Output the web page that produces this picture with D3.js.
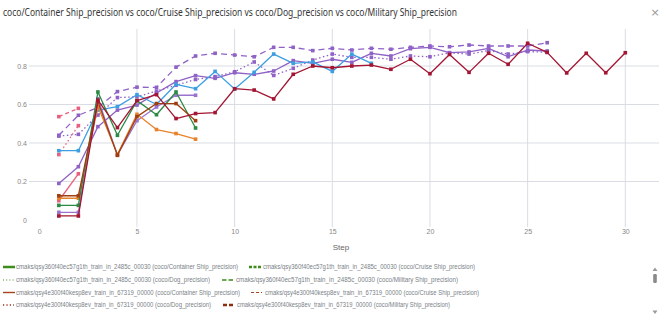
<!DOCTYPE html>
<html><head><meta charset="utf-8">
<script src="https://cdn.jsdelivr.net/npm/d3@7"></script>
<style>body{margin:0;background:#fff;}svg{display:block;}</style>
</head><body>
<svg id="c" width="666" height="328"></svg>
<script>
// ---- data ----
const titleText = "coco/Container Ship_precision vs coco/Cruise Ship_precision vs coco/Dog_precision vs coco/Military Ship_precision";
const xTicks = [0, 5, 10, 15, 20, 25, 30];
const yTicks = [0, 0.2, 0.4, 0.6, 0.8];
// values per step, starting at step 1
const greenContainer = [0.076,0.076,0.665,0.44,0.62,0.547,0.665,0.478];
const orangeContainer = [0.113,0.113,0.589,0.341,0.549,0.47,0.449,0.42];
const brownContainer = [0.126,0.126,0.615,0.336,0.537,0.605,0.605,0.516];
const violetContainer = [0.04,0.04,0.63,0.338,0.516,0.587,0.648,0.648];
const crimsonContainer = [0.021,0.021,0.623,0.48,0.62,0.651,0.527,0.553,0.558,0.682,0.675,0.629,0.757,0.8,0.791,0.8,0.805,0.783,0.835,0.76,0.86,0.767,0.866,0.809,0.918,0.871,0.764,0.866,0.765,0.869];
const blueContainer = [0.36,0.36,0.571,0.589,0.651,0.6,0.705,0.682,0.772,0.68,0.767,0.862,0.814,0.821,0.772,0.862,0.814];
const purpleContainer = [0.19,0.277,0.485,0.571,0.597,0.66,0.719,0.75,0.736,0.765,0.757,0.774,0.828,0.814,0.835,0.819,0.866,0.852,0.89,0.897,0.869,0.873,0.892,0.848,0.883,0.878];
const purpleDog = [0.436,0.445,0.545,0.636,0.64,0.67,0.70,0.73,0.745,0.77,0.821,0.751,0.788,0.831,0.862,0.845,0.845,0.835,0.852,0.848,0.869,0.862,0.88,0.862,0.875,0.871];
const purpleMilitary = [0.44,0.544,0.585,0.667,0.69,0.689,0.794,0.852,0.866,0.857,0.848,0.897,0.897,0.88,0.892,0.883,0.892,0.887,0.897,0.904,0.9,0.909,0.904,0.904,0.904,0.921];
const pinkContainer = [0.10,0.24];
const pinkDog = [0.34,0.49];
const pinkCruise = [0.537,0.58];

const legendNames = [
 "cmaks/qsy360f40ec57g1th_train_in_2485c_00030 (coco/Container Ship_precision)",
 "cmaks/qsy360f40ec57g1th_train_in_2485c_00030 (coco/Cruise Ship_precision)",
 "cmaks/qsy360f40ec57g1th_train_in_2485c_00030 (coco/Dog_precision)",
 "cmaks/qsy360f40ec57g1th_train_in_2485c_00030 (coco/Military Ship_precision)",
 "cmaks/qsy4e300f40kesp8ev_train_in_67319_00000 (coco/Container Ship_precision)",
 "cmaks/qsy4e300f40kesp8ev_train_in_67319_00000 (coco/Cruise Ship_precision)",
 "cmaks/qsy4e300f40kesp8ev_train_in_67319_00000 (coco/Dog_precision)",
 "cmaks/qsy4e300f40kesp8ev_train_in_67319_00000 (coco/Military Ship_precision)"
];

// ---- styles ----
const series = [
 {v: pinkContainer, c:"#e8607f", dash:null},
 {v: pinkDog, c:"#e8607f", dash:"1.5,2.5"},
 {v: pinkCruise, c:"#e8607f", dash:"4,3"},
 {v: purpleDog, c:"#8f62c6", dash:"1.5,2.5"},
 {v: purpleMilitary, c:"#8f62c6", dash:"6,4"},
 {v: purpleContainer, c:"#8f62c6", dash:null},
 {v: blueContainer, c:"#3d9fe2", dash:null},
 {v: violetContainer, c:"#9a73d0", dash:null},
 {v: orangeContainer, c:"#e8822b", dash:null},
 {v: greenContainer, c:"#2b8a43", dash:null},
 {v: brownContainer, c:"#9e3f12", dash:null},
 {v: crimsonContainer, c:"#a31533", dash:null}
];

const svg = d3.select("#c");
const x = d3.scaleLinear().domain([0, 30]).range([39.3, 625.3]);
const y = d3.scaleLinear().domain([0, 0.8]).range([220, 66]);

// title
svg.append("text").attr("x", 3).attr("y", 16)
  .attr("font-family", "Noto Sans, Open Sans, sans-serif").attr("font-size", 11.5)
  .attr("fill", "#333").attr("textLength", 454).attr("lengthAdjust", "spacingAndGlyphs")
  .text(titleText);
svg.append("text").attr("x", 655).attr("y", 16).attr("text-anchor", "middle")
  .attr("font-family", "DejaVu Sans, sans-serif").attr("font-size", 11).attr("fill", "#999").text("×");

// grid
const g = svg.append("g");
g.selectAll(".hg").data(yTicks.filter(d => d > 0)).enter().append("line")
  .attr("x1", 29).attr("x2", 659).attr("y1", d => y(d)).attr("y2", d => y(d))
  .attr("stroke", "#d9dde3").attr("stroke-width", 1);
g.selectAll(".vg").data(xTicks.filter(d => d > 0)).enter().append("line")
  .attr("y1", 29).attr("y2", 227).attr("x1", d => x(d)).attr("x2", d => x(d))
  .attr("stroke", "#d9dde3").attr("stroke-width", 1);

// axes (labels only, via d3 axes)
const yAxis = svg.append("g").attr("transform", "translate(27,0)")
  .call(d3.axisLeft(y).tickValues(yTicks).tickSize(0).tickPadding(0).tickFormat(d => d === 0 ? "0" : d3.format(".1f")(d)));
yAxis.select(".domain").remove();
yAxis.selectAll("text").attr("font-family", "Liberation Sans, sans-serif").attr("font-size", 7).attr("fill", "#888").attr("dy", "0.35em");
const xAxis = svg.append("g").attr("transform", "translate(0,229)")
  .call(d3.axisBottom(x).tickValues(xTicks).tickSize(0).tickPadding(0));
xAxis.select(".domain").remove();
xAxis.selectAll("text").attr("font-family", "Liberation Sans, sans-serif").attr("font-size", 7).attr("fill", "#888").attr("dy", "0.71em");
svg.append("text").attr("x", 341).attr("y", 250).attr("text-anchor", "middle")
  .attr("font-family", "Liberation Sans, sans-serif").attr("font-size", 8).attr("fill", "#666").text("Step");

// lines
const line = d3.line().x((d, i) => x(i + 1)).y(d => y(d));
series.forEach(s => {
  svg.append("path").attr("d", line(s.v)).attr("fill", "none")
    .attr("stroke", s.c).attr("stroke-width", 1.3)
    .attr("stroke-dasharray", s.dash).attr("stroke-linejoin", "round");
  svg.append("g").selectAll("rect").data(s.v).enter().append("rect")
    .attr("x", (d, i) => x(i + 1) - 1.8).attr("y", d => y(d) - 1.8)
    .attr("width", 3.6).attr("height", 3.6).attr("fill", s.c);
});

// legend
const legendItems = [
 {name: legendNames[0], c:"#3d8c1c", dash:null, sx:3, sw:12, tx:16, tw:222, ty:267, th:2.5},
 {name: legendNames[1], c:"#3d8c1c", dash:"3,1.5", sx:249, sw:13, tx:263, tw:212, ty:267, th:2.5},
 {name: legendNames[2], c:"#3d8c1c", dash:"1,2.2", sx:3, sw:11, tx:16, tw:194, ty:280, th:1.2},
 {name: legendNames[3], c:"#3d8c1c", dash:"4.5,2", sx:222, sw:11, tx:236, tw:222, ty:280, th:1.4},
 {name: legendNames[4], c:"#a4441c", dash:null, sx:3, sw:12, tx:16, tw:224, ty:292.5, th:1.4},
 {name: legendNames[5], c:"#a4441c", dash:"3,2", sx:251, sw:11, tx:265, tw:214, ty:292.5, th:1.2},
 {name: legendNames[6], c:"#9a2f1a", dash:"1.2,2.2", sx:3, sw:11, tx:16, tw:195, ty:305, th:1.6},
 {name: legendNames[7], c:"#8b2f0c", dash:"4,2", sx:223, sw:11, tx:237, tw:213, ty:305, th:2.5}
];
legendItems.forEach(L => {
  svg.append("line").attr("x1", L.sx).attr("x2", L.sx + L.sw).attr("y1", L.ty).attr("y2", L.ty)
    .attr("stroke", L.c).attr("stroke-width", L.th).attr("stroke-dasharray", L.dash);
  svg.append("text").attr("x", L.tx).attr("y", L.ty).attr("dy", "0.35em")
    .attr("font-family", "Liberation Sans, sans-serif").attr("font-size", 6.5).attr("fill", "#7a7f87")
    .attr("textLength", L.tw).attr("lengthAdjust", "spacingAndGlyphs").text(L.name);
});

// scrollbar
svg.append("path").attr("d", "M652.5,271 L657.5,271 L655,267.5 Z").attr("fill", "#9a9a9a");
svg.append("rect").attr("x", 653.2).attr("y", 274).attr("width", 3.6).attr("height", 9).attr("rx", 1.2).attr("fill", "#8a8a8a");
svg.append("path").attr("d", "M652.5,310.5 L657.5,310.5 L655,314 Z").attr("fill", "#9a9a9a");
</script>
</body></html>
